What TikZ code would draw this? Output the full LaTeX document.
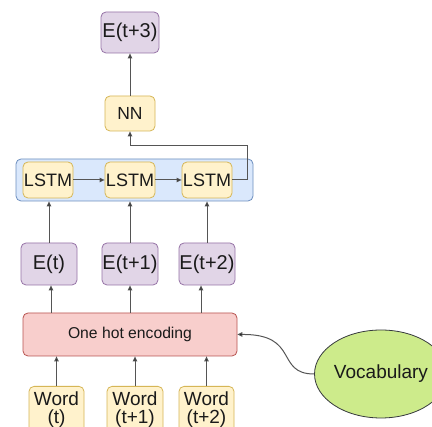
\documentclass[tikz,border=0pt]{standalone}
\usepackage{fontspec}
\setmainfont{Liberation Sans}
\usetikzlibrary{arrows.meta,calc,shapes.geometric}
\definecolor{ylfill}{HTML}{FFF2CC}
\definecolor{yldraw}{HTML}{D6B656}
\definecolor{pufill}{HTML}{E1D5E7}
\definecolor{pudraw}{HTML}{9673A6}
\definecolor{blfill}{HTML}{DAE8FC}
\definecolor{bldraw}{HTML}{6C8EBF}
\definecolor{rdfill}{HTML}{F8CECC}
\definecolor{rddraw}{HTML}{B85450}
\definecolor{grfill}{HTML}{CDEB8B}
\definecolor{grdraw}{HTML}{36393D}
\definecolor{linec}{HTML}{555555}
\definecolor{txt}{HTML}{1A1A1A}
\tikzset{
  box/.style={rounded corners=5pt, line width=0.8pt, inner sep=0pt, align=center, text=txt},
  ybox/.style={box, fill=ylfill, draw=yldraw},
  pbox/.style={box, fill=pufill, draw=pudraw},
  wbox/.style={ybox, minimum height=46pt, font=\fontsize{19pt}{18pt}\selectfont, anchor=north},
  arr/.style={draw=linec, line width=1pt, -{Triangle[length=5pt,width=4.5pt,fill=black]}},
}
\begin{document}
\begin{tikzpicture}[x=1pt,y=-1pt]
\useasboundingbox[fill=white] (0,0) rectangle (432,427);
\clip (0,0) rectangle (432,427);
% container
\node[box, fill=blfill, draw=bldraw, minimum width=237pt, minimum height=42pt] (cont) at (134.5,180) {};
% top
\node[pbox, minimum width=58pt, minimum height=41pt, font=\fontsize{20pt}{22pt}\selectfont] (e3) at (130,32.5) {E(t+3)};
\node[ybox, minimum width=50pt, minimum height=35pt, font=\fontsize{17.5pt}{20pt}\selectfont] (nn) at (130,113.5) {NN};
% LSTMs
\node[ybox, minimum width=50pt, minimum height=36pt, font=\fontsize{18pt}{20pt}\selectfont] (l1) at (48,180) {LSTM};
\node[ybox, minimum width=50pt, minimum height=36pt, font=\fontsize{18pt}{20pt}\selectfont] (l2) at (130,180) {LSTM};
\node[ybox, minimum width=50pt, minimum height=36pt, font=\fontsize{18pt}{20pt}\selectfont] (l3) at (207,180) {LSTM};
% embeddings
\node[pbox, minimum width=56pt, minimum height=42pt, font=\fontsize{20pt}{22pt}\selectfont] (e0) at (49,264) {E(t)};
\node[pbox, minimum width=56pt, minimum height=42pt, font=\fontsize{20pt}{22pt}\selectfont] (e1) at (130,264) {E(t+1)};
\node[pbox, minimum width=56pt, minimum height=42pt, font=\fontsize{20pt}{22pt}\selectfont] (e2) at (207,264) {E(t+2)};
% one hot
\node[box, fill=rdfill, draw=rddraw, minimum width=214pt, minimum height=43pt, font=\fontsize{15.7pt}{18pt}\selectfont] (oh) at (130,334.5) {One hot encoding};
% words
\node[wbox, minimum width=55pt] (w0) at (56.5,386) {Word\\(t)};
\node[wbox, minimum width=56pt] (w1) at (135,386) {Word\\(t+1)};
\node[wbox, minimum width=55pt] (w2) at (206.5,386) {Word\\(t+2)};
% vocabulary
\node[ellipse, fill=grfill, draw=grdraw, line width=0.8pt, minimum width=98pt, minimum height=88pt, inner sep=0pt, text=txt, font=\fontsize{19pt}{21pt}\selectfont] (voc) at (381,374) {Vocabulary};
% connectors
\draw[arr] (l1.east) -- (l2.west);
\draw[arr] (l2.east) -- (l3.west);
\coordinate (c1) at (247,180);
\coordinate (c2) at (247,146);
\draw[arr] (l3.east) -- (c1) -- (c2) -- (c2 -| nn.south) -- (nn.south);
\draw[arr] (nn.north) -- (e3.south);
\draw[arr] (e0.north) -- (e0.north |- cont.south);
\draw[arr] (e1.north) -- (e1.north |- cont.south);
\draw[arr] (e2.north) -- (e2.north |- cont.south);
\draw[arr] ([xshift=2pt]e0.south |- oh.north) -- ([xshift=2pt]e0.south);
\draw[arr] (e1.south |- oh.north) -- (e1.south);
\draw[arr] ([xshift=-6pt]e2.south |- oh.north) -- ([xshift=-6pt]e2.south);
\draw[arr] (w0.north) -- (w0.north |- oh.south);
\draw[arr] (w1.north) -- (w1.north |- oh.south);
\draw[arr] (w2.north) -- (w2.north |- oh.south);
\draw[arr] (voc.west) .. controls (275,374) and (300,334) .. (oh.east);
\end{tikzpicture}
\end{document}
